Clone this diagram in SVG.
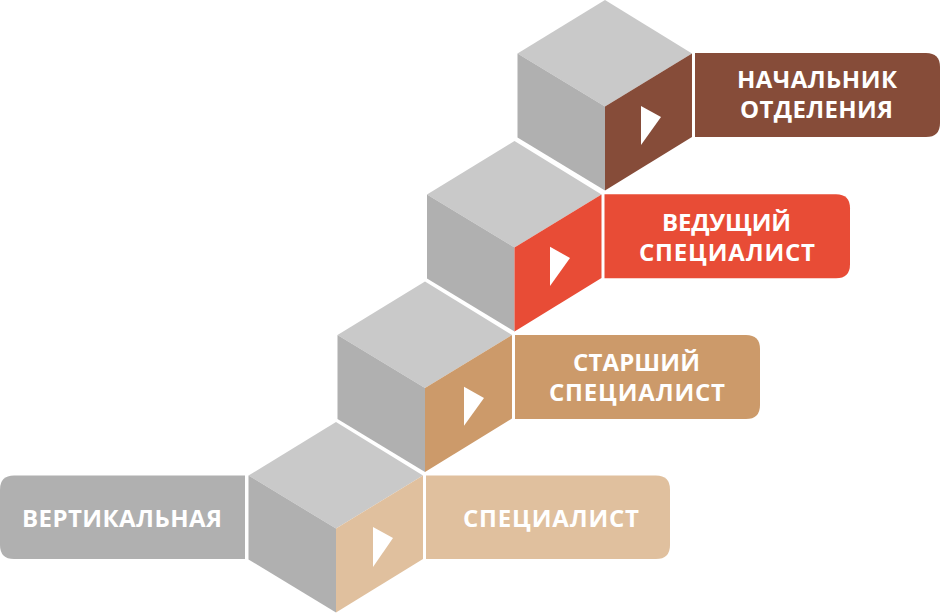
<svg xmlns="http://www.w3.org/2000/svg" width="940" height="613" viewBox="0 0 940 613">
<defs><style>
.top{fill:#c9c9c9}.left{fill:#b0b0b0}
.t{font-family:"Open Sans","Noto Sans",sans-serif;font-weight:700;font-size:24px;fill:#fff}
.w{fill:#fff}
</style>
<g id="cube"><path class="top" d="M87.500 0L174.500 53.500L87.500 106.500L0 53.500Z"/><path class="left" d="M0 53.500L87.500 106.500V190.500L0 137.500Z"/></g>
</defs>
<rect width="940" height="613" fill="#fff"/>
<g id="n5"><use href="#cube" x="517.500" y="0"/><path fill="#864c39" d="M605 106.500L692 53.500V137L605 190.500Z"/><path class="w" d="M641 106L661 117L641 145Z"/><path fill="#864c39" d="M695 53H926Q940 53 940 67V123Q940 137 926 137H695Z"/><text class="t" x="737" y="88" textLength="160">НАЧАЛЬНИК</text><text class="t" x="740" y="118" textLength="153">ОТДЕЛЕНИЯ</text></g>
<g id="n4"><use href="#cube" x="427" y="141"/><path fill="#e84c36" d="M514.500 247.500L601.500 194.500V278L514.500 331.500Z"/><path class="w" d="M550 246.700L570 258L550 286Z"/><path fill="#e84c36" d="M604.500 194.300H836Q850 194.300 850 208.300V264.300Q850 278.300 836 278.300H604.500Z"/><text class="t" x="662" y="231" textLength="129">ВЕДУЩИЙ</text><text class="t" x="639" y="261" textLength="176">СПЕЦИАЛИСТ</text></g>
<g id="n3"><use href="#cube" x="337.500" y="281.500"/><path fill="#cc9a6a" d="M425 388L512 335V418.500L425 472Z"/><path class="w" d="M464 386.700L484 398L464 425.700Z"/><path fill="#cc9a6a" d="M515 335H746Q760 335 760 349V405Q760 419 746 419H515Z"/><text class="t" x="573" y="371" textLength="127">СТАРШИЙ</text><text class="t" x="549" y="401" textLength="176">СПЕЦИАЛИСТ</text></g>
<g id="n2"><use href="#cube" x="248.500" y="422"/><path fill="#e0c09e" d="M336 528.500L423 475.500V559L336 612.500Z"/><path class="w" d="M373 527L393 538L373 567Z"/><path fill="#e0c09e" d="M426 475.500H656Q670 475.500 670 489.500V545Q670 559 656 559H426Z"/><text class="t" x="463" y="527" textLength="176">СПЕЦИАЛИСТ</text></g>
<g id="n1"><path fill="#b0b0b0" d="M245 475.500H14Q0 475.500 0 489.500V545Q0 559 14 559H245Z"/><text class="t" x="22" y="527" textLength="200">ВЕРТИКАЛЬНАЯ</text></g>
<g id="connectors"/>
</svg>
